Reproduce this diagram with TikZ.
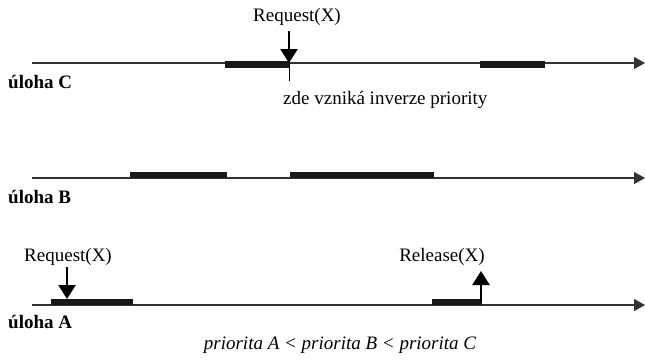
\documentclass[tikz,border=0pt]{standalone}
\usepackage{fontspec}
\setmainfont{Liberation Serif}
\usetikzlibrary{arrows.meta}
\begin{document}
\begin{tikzpicture}[x=1pt,y=-1pt,
  axis/.style={line width=1.3pt,draw=black!80,-{Triangle[length=11pt,width=12pt]}},
  busy/.style={line width=6.5pt,draw=black!90},
  evarrow/.style={line width=2.5pt,-{Triangle[length=14pt,width=17pt]}},
  lbl/.style={font=\fontsize{19}{22}\selectfont,inner sep=0pt},
  tasklbl/.style={font=\fontsize{19}{22}\selectfont\bfseries,inner sep=0pt,anchor=west}]
\useasboundingbox (0,0) rectangle (645,362);
% axes
\coordinate (c0) at (32,63);  \coordinate (c1) at (645,63);
\coordinate (b0) at (32,178); \coordinate (b1) at (645,178);
\coordinate (a0) at (32,305); \coordinate (a1) at (645,305);
\draw[axis] (c0) -- (c1);
\draw[axis] (b0) -- (b1);
\draw[axis] (a0) -- (a1);
% task labels
\node[tasklbl] (lc) at (8,82) {úloha C};
\node[tasklbl] (lb) at (8,197) {úloha B};
\node[tasklbl] (la) at (8,322) {úloha A};
% busy bars
\draw[busy] (225,64.5) -- (289,64.5);
\draw[busy] (480,64.5) -- (545,64.5);
\draw[busy] (130,175) -- (227,175);
\draw[busy] (290,175) -- (434,175);
\draw[busy] (51,302) -- (133,302);
\draw[busy] (432,302) -- (482,302);
% task C request
\node[lbl] (rqc) at (297,17) {Request(X)};
\coordinate (rqct) at (289,31);
\coordinate (rqch) at (289,63);
\draw[evarrow] (rqct) -- (rqch);
\coordinate (tick0) at (289,63);
\coordinate (tick1) at (289,81);
\draw[line width=1pt] (tick0) -- (tick1);
\node[lbl,anchor=west] (inv) at (283,100) {zde vzniká inverze priority};
% task A request
\node[lbl] (rqa) at (68,257) {Request(X)};
\coordinate (rqat) at (67,267);
\coordinate (rqah) at (67,299);
\draw[evarrow] (rqat) -- (rqah);
% task A release
\node[lbl] (rla) at (442,257) {Release(X)};
\coordinate (rlab) at (481,302);
\coordinate (rlat) at (481,271);
\draw[evarrow] (rlab) -- (rlat);
% caption
\node[lbl,font=\fontsize{19}{22}\selectfont\itshape] (cap) at (340,345) {priorita A < priorita B < priorita C};
\end{tikzpicture}
\end{document}
